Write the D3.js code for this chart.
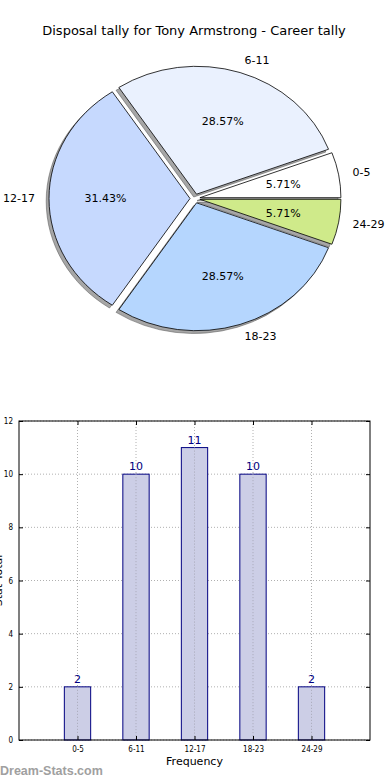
<!DOCTYPE html>
<html>
<head>
<meta charset="utf-8">
<script src="https://cdn.jsdelivr.net/npm/d3@7"></script>
<style>
  html, body { margin: 0; padding: 0; background: #fff; }
  svg { display: block; font-family: "DejaVu Sans", sans-serif; }
</style>
</head>
<body>
<svg id="chart" width="390" height="780"></svg>
<script>
// ---- data ----
const categories = ["0-5", "6-11", "12-17", "18-23", "24-29"];
const counts = [2, 10, 11, 10, 2];
const pieColors = ["#ffffff", "#eaf1fe", "#c6d9fe", "#b5d6fe", "#cfea8a"];
const yTicks = [0, 2, 4, 6, 8, 10, 12];
const titleText = "Disposal tally for Tony Armstrong - Career tally";
const xLabel = "Frequency";
const yLabel = "Stat Total";
const watermark = "Dream-Stats.com";

const svg = d3.select("#chart");
const condensed = "'DejaVu Sans Condensed', 'DejaVu Sans', sans-serif";

// ---- title ----
svg.append("text")
  .attr("x", 194).attr("y", 34.5)
  .attr("text-anchor", "middle")
  .attr("font-size", 13)
  .attr("fill", "#000")
  .text(titleText);

// ---- pie ----
const cx = 195, cy = 198.5, R = 141, ex = 5, ky = 0.907;
const total = d3.sum(counts);
const pie = d3.pie().sort(null).value(d => d)
  .startAngle(Math.PI / 2).endAngle(Math.PI / 2 - 2 * Math.PI);
const arcs = pie(counts);
const arc = d3.arc().innerRadius(0).outerRadius(R);

const pg = svg.append("g").attr("transform", `translate(${cx},${cy}) scale(1,${ky})`);
const mid = d => (d.startAngle + d.endAngle) / 2;
const dir = d => [Math.sin(mid(d)), -Math.cos(mid(d))];

// shadows
pg.selectAll("path.shadow").data(arcs).enter().append("path")
  .attr("class", "shadow")
  .attr("d", arc)
  .attr("transform", d => { const [dx, dy] = dir(d); return `translate(${dx * ex - 2.8},${dy * ex + 2.8 / ky})`; })
  .attr("fill", "#4d4d4d").attr("fill-opacity", 0.5)
  .attr("stroke", "#4d4d4d").attr("stroke-opacity", 0.5)
  .attr("vector-effect", "non-scaling-stroke");

// wedges
pg.selectAll("path.wedge").data(arcs).enter().append("path")
  .attr("class", "wedge")
  .attr("d", arc)
  .attr("transform", d => { const [dx, dy] = dir(d); return `translate(${dx * ex},${dy * ex})`; })
  .attr("fill", (d, i) => pieColors[i])
  .attr("stroke", "#000").attr("stroke-width", 0.8)
  .attr("vector-effect", "non-scaling-stroke");

// percent labels
svg.selectAll("text.pct").data(arcs).enter().append("text")
  .attr("class", "pct")
  .attr("x", d => cx + dir(d)[0] * (ex + 0.6 * R))
  .attr("y", d => cy + dir(d)[1] * (ex + 0.6 * R) * ky)
  .attr("dy", "0.35em")
  .attr("text-anchor", "middle")
  .attr("font-size", 11)
  .attr("fill", "#000")
  .text(d => (d.value / total * 100).toFixed(2) + "%");

// category labels
svg.selectAll("text.cat").data(arcs).enter().append("text")
  .attr("class", "cat")
  .attr("x", d => cx + dir(d)[0] * (ex + 1.1 * R))
  .attr("y", d => cy + dir(d)[1] * (ex + 1.1 * R) * ky)
  .attr("dy", "0.35em")
  .attr("text-anchor", d => dir(d)[0] >= 0 ? "start" : "end")
  .attr("font-size", 11)
  .attr("fill", "#000")
  .text((d, i) => categories[i]);

// ---- bar chart ----
const x0 = 19, x1 = 370, y0 = 740, y1 = 421;
const x = d3.scaleLinear().domain([-1, 5]).range([x0, x1]);
const y = d3.scaleLinear().domain([0, 12]).range([y0, y1]);
const bw = x(0.45) - x(0);
const bg = svg.append("g");

// grid
bg.selectAll("line.hgrid").data(yTicks).enter().append("line")
  .attr("x1", x0).attr("x2", x1)
  .attr("y1", d => y(d)).attr("y2", d => y(d))
  .attr("stroke", "#b0b0b0").attr("stroke-width", 1)
  .attr("stroke-dasharray", "1,2");
bg.selectAll("line.vgrid").data(categories).enter().append("line")
  .attr("x1", (d, i) => x(i)).attr("x2", (d, i) => x(i))
  .attr("y1", y1).attr("y2", y0)
  .attr("stroke", "#b0b0b0").attr("stroke-width", 1)
  .attr("stroke-dasharray", "1,2");

// bars
bg.selectAll("rect.bar").data(counts).enter().append("rect")
  .attr("x", (d, i) => x(i) - bw / 2)
  .attr("y", d => y(d))
  .attr("width", bw)
  .attr("height", d => y(0) - y(d))
  .attr("fill", "#ccceE6")
  .attr("stroke", "#000080").attr("stroke-width", 1);

// dotted grid showing through bars
bg.selectAll("line.vgrid2").data(categories).enter().append("line")
  .attr("x1", (d, i) => x(i)).attr("x2", (d, i) => x(i))
  .attr("y1", (d, i) => y(counts[i])).attr("y2", y0)
  .attr("stroke", "#a8a8b8").attr("stroke-width", 1)
  .attr("stroke-dasharray", "1,2");

// value labels
bg.selectAll("text.val").data(counts).enter().append("text")
  .attr("x", (d, i) => x(i))
  .attr("y", d => y(d) - 4)
  .attr("text-anchor", "middle")
  .attr("font-size", 11)
  .attr("fill", "#000080")
  .text(d => d);

// frame
bg.append("rect")
  .attr("x", x0).attr("y", y1).attr("width", x1 - x0).attr("height", y0 - y1)
  .attr("fill", "none").attr("stroke", "#000").attr("stroke-width", 1);

// y axis
const yAxis = d3.axisLeft(y).tickValues(yTicks).tickSize(-4).tickPadding(6);
const ya = bg.append("g").attr("transform", `translate(${x0},0)`).call(yAxis);
ya.select(".domain").remove();
ya.selectAll("text").attr("font-size", 8).style("font-family", condensed).attr("fill", "#000");
const yAxisR = d3.axisRight(y).tickValues(yTicks).tickSize(-4).tickFormat("");
const yr = bg.append("g").attr("transform", `translate(${x1},0)`).call(yAxisR);
yr.select(".domain").remove();

// x axis
const xAxis = d3.axisBottom(x).tickValues(d3.range(categories.length))
  .tickFormat(i => categories[i]).tickSize(-4).tickPadding(6);
const xa = bg.append("g").attr("transform", `translate(0,${y0})`).call(xAxis);
xa.select(".domain").remove();
xa.selectAll("text").attr("font-size", 8).style("font-family", condensed).attr("fill", "#000");
const xAxisT = d3.axisTop(x).tickValues(d3.range(categories.length)).tickSize(-4).tickFormat("");
const xt = bg.append("g").attr("transform", `translate(0,${y1})`).call(xAxisT);
xt.select(".domain").remove();

// axis labels
svg.append("text")
  .attr("x", (x0 + x1) / 2).attr("y", 765)
  .attr("text-anchor", "middle")
  .attr("font-size", 11)
  .attr("fill", "#000")
  .text(xLabel);
// y label: in the reference it sits mostly beyond the left edge
svg.append("text")
  .attr("transform", `translate(2,${(y0 + y1) / 2}) rotate(-90)`)
  .attr("text-anchor", "middle")
  .attr("font-size", 11)
  .attr("fill", "#000")
  .text(yLabel);

// watermark
svg.append("text")
  .attr("x", 0).attr("y", 775)
  .style("font-family", "'Liberation Sans', Arial, sans-serif")
  .attr("font-size", 12.5)
  .attr("font-weight", "bold")
  .attr("fill", "#a0a0a0")
  .text(watermark);
</script>
</body>
</html>
